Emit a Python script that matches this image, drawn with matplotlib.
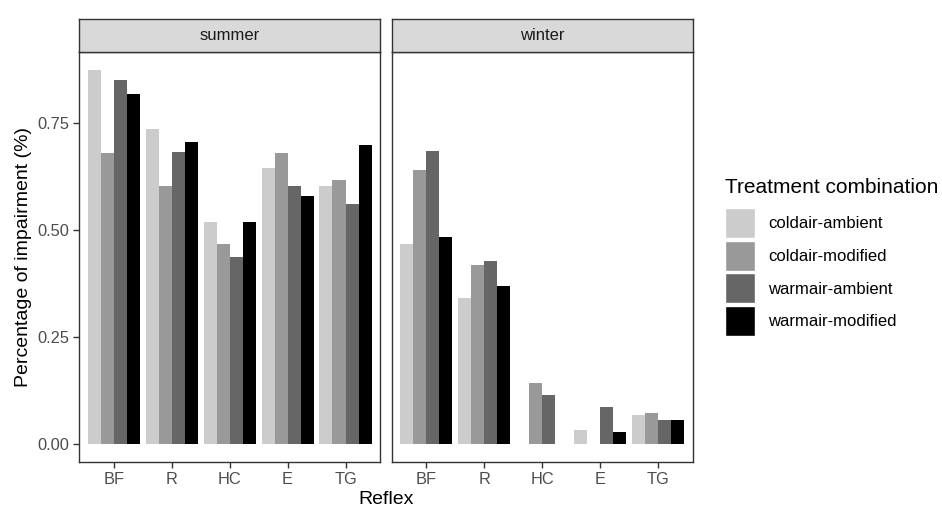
import matplotlib
matplotlib.use("Agg")
import matplotlib.pyplot as plt
from matplotlib.patches import Patch
import numpy as np

plt.rcParams['font.family'] = ['Liberation Sans', 'DejaVu Sans']

reflexes = ["BF", "R", "HC", "E", "TG"]
seasons = ["summer", "winter"]
treatments = ["coldair-ambient", "coldair-modified", "warmair-ambient", "warmair-modified"]
colors = ["#CCCCCC", "#999999", "#666666", "#000000"]

summer_coldair_ambient = [0.873, 0.736, 0.519, 0.645, 0.603]
summer_coldair_modified = [0.679, 0.602, 0.467, 0.679, 0.616]
summer_warmair_ambient = [0.851, 0.683, 0.436, 0.603, 0.561]
summer_warmair_modified = [0.818, 0.705, 0.519, 0.578, 0.698]

winter_coldair_ambient = [0.466, 0.341, 0.0, 0.033, 0.066]
winter_coldair_modified = [0.641, 0.418, 0.142, 0.0, 0.071]
winter_warmair_ambient = [0.684, 0.427, 0.114, 0.085, 0.056]
winter_warmair_modified = [0.484, 0.369, 0.0, 0.028, 0.056]

data = {
    "summer": [summer_coldair_ambient, summer_coldair_modified, summer_warmair_ambient, summer_warmair_modified],
    "winter": [winter_coldair_ambient, winter_coldair_modified, winter_warmair_ambient, winter_warmair_modified],
}

W, H = 942, 509
fig = plt.figure(figsize=(W / 100, H / 100), dpi=100)

def fx(px):
    return px / W

def fy(py):
    return 1 - py / H

panel_x = [(79, 380.3), (391.7, 692.7)]
panel_top, panel_bot = 51.7, 462.3
strip_top = 19

ymax_all = max(max(max(s) for s in data[k]) for k in seasons)
ylim = (-0.05 * ymax_all, ymax_all * 1.05)

dark = "#333333"
tickc = "#4D4D4D"
axes = []
for i, season in enumerate(seasons):
    x0, x1 = panel_x[i]
    ax = fig.add_axes([fx(x0), fy(panel_bot), fx(x1 - x0), (panel_bot - panel_top) / H])
    axes.append(ax)
    x = np.arange(1, len(reflexes) + 1)
    bw = 0.9 / len(treatments)
    for j, vals in enumerate(data[season]):
        ax.bar(x - 0.45 + bw * (j + 0.5), vals, width=bw, color=colors[j], edgecolor="none")
    ax.set_xlim(0.4, len(reflexes) + 0.6)
    ax.set_ylim(*ylim)
    ax.set_xticks(x)
    ax.set_xticklabels(reflexes)
    ax.set_yticks([0, 0.25, 0.5, 0.75])
    ax.set_yticklabels(["0.00", "0.25", "0.50", "0.75"])
    for s in ax.spines.values():
        s.set_color(dark)
        s.set_linewidth(1.0)
    ax.tick_params(axis="both", colors=dark, labelcolor=tickc, labelsize=11.8, length=4, width=1.0, pad=3)
    if i > 0:
        ax.tick_params(axis="y", left=False, labelleft=False)
    # strip
    sax = fig.add_axes([fx(x0), fy(panel_top), fx(x1 - x0), (panel_top - strip_top) / H])
    sax.set_facecolor("#D9D9D9")
    sax.set_xticks([])
    sax.set_yticks([])
    for s in sax.spines.values():
        s.set_color(dark)
        s.set_linewidth(1.0)
    sax.text(0.5, 0.5, season, ha="center", va="center", fontsize=12, color="#1A1A1A", transform=sax.transAxes)

axes[0].set_ylabel("Percentage of impairment (%)", fontsize=14, color="black", labelpad=4)
fig.text(fx((79 + 692.7) / 2), fy(499), "Reflex", ha="center", va="center", fontsize=14, color="black")

handles = [Patch(facecolor=c, edgecolor="white", linewidth=1) for c in colors]
leg = fig.legend(handles, treatments, loc="upper left", bbox_to_anchor=(fx(725), fy(178)),
                 frameon=False, fontsize=12, title="Treatment combination", title_fontsize=15,
                 handlelength=1.8, handleheight=2.39, labelspacing=0.16, handletextpad=0.78,
                 borderaxespad=0, borderpad=0)
leg._legend_box.align = "left"
leg._legend_box.sep = 8

fig.savefig("out.png", dpi=100)
